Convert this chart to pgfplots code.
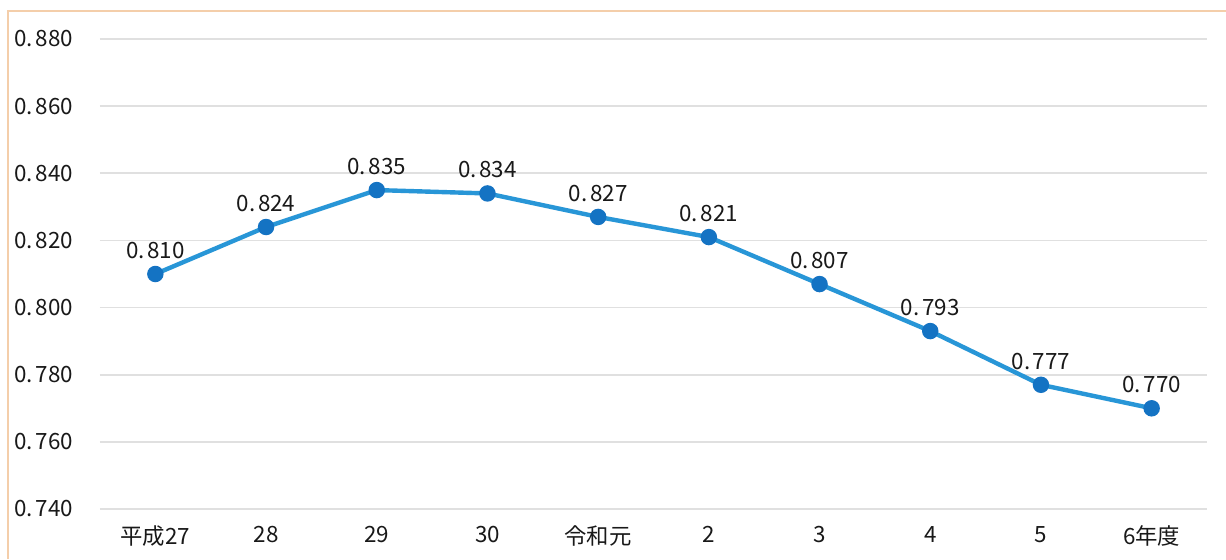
\documentclass[border=0pt]{standalone}
\usepackage{fontspec}
\setmainfont{Noto Sans CJK JP}
\usepackage{pgfplots}
\usepackage{pgfplotstable}
\pgfplotsset{compat=1.18}
\definecolor{lineblue}{RGB}{40,150,215}
\definecolor{markblue}{RGB}{20,115,195}
\definecolor{gridgray}{RGB}{224,224,224}
\definecolor{frameor}{RGB}{244,206,170}
\newcommand{\dsp}{\hspace{0.12em}}
\pgfplotstableread[col sep=comma]{
x,y,label
0,0.810,0.\dsp810
1,0.824,0.\dsp824
2,0.835,0.\dsp835
3,0.834,0.\dsp834
4,0.827,0.\dsp827
5,0.821,0.\dsp821
6,0.807,0.\dsp807
7,0.793,0.\dsp793
8,0.777,0.\dsp777
9,0.770,0.\dsp770
}\datatable
\begin{document}
\begin{tikzpicture}[x=1pt,y=1pt]
\useasboundingbox (0,0) rectangle (613,279.5);
\fill[white] (0,0) rectangle (613,279.5);
\draw[frameor, line width=1pt] (4,0) -- (4,274) -- (613,274);
\begin{axis}[at={(50pt,25pt)}, anchor=south west, scale only axis,
  width=553.5pt, height=235pt,
  xmin=-0.5, xmax=9.5, ymin=0.74, ymax=0.88,
  xtick={0,1,2,3,4,5,6,7,8,9},
  xticklabels={平成27,28,29,30,令和元,2,3,4,5,6年度},
  ytick={0.74,0.76,0.78,0.80,0.82,0.84,0.86,0.88},
  yticklabels={0.\dsp740,0.\dsp760,0.\dsp780,0.\dsp800,0.\dsp820,0.\dsp840,0.\dsp860,0.\dsp880},
  axis line style={draw=none}, major tick length=0pt,
  ymajorgrids, grid style={gridgray, line width=0.8pt},
  tick label style={font=\fontsize{11.2}{13}\selectfont, text=black!90},
  yticklabel style={xshift=-10pt},
  xticklabel style={yshift=-5pt},
  clip=false]
\addplot[lineblue, line width=2.2pt, mark=*, mark size=3pt,
  mark options={fill=markblue, draw=markblue},
  point meta=explicit symbolic, nodes near coords,
  nodes near coords style={font=\fontsize{11.2}{13}\selectfont, text=black!90, anchor=south, inner sep=0pt, yshift=6.5pt}]
  table[x=x, y=y, meta=label] {\datatable};
\end{axis}
\end{tikzpicture}
\end{document}
